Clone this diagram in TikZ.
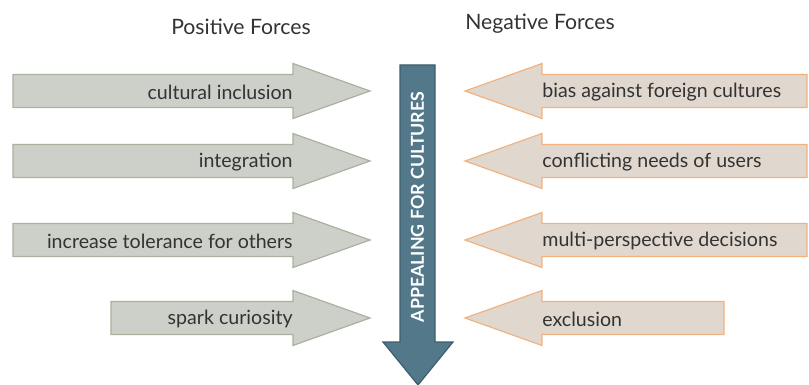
\documentclass[tikz,border=0pt]{standalone}
\usepackage{fontspec}
\setmainfont{Lato}
\usepackage{tikz}
\usetikzlibrary{positioning,calc}
\definecolor{posfill}{HTML}{CDD0C8}
\definecolor{posline}{HTML}{A9B19F}
\definecolor{negfill}{HTML}{E0D8CE}
\definecolor{negline}{HTML}{F2B280}
\definecolor{midfill}{HTML}{52788A}
\definecolor{midline}{HTML}{3D5E6E}
\definecolor{inktext}{HTML}{333333}

\begin{document}
\begin{tikzpicture}[x=0.5pt, y=-0.5pt,
  posarr/.style={draw=posline, fill=posfill, line width=0.6pt},
  negarr/.style={draw=negline, fill=negfill, line width=0.6pt},
  midarr/.style={draw=midline, fill=midfill, line width=0.6pt},
  lab/.style={font=\fontsize{9.8}{11}\selectfont, text=inktext, inner sep=0pt},
  head/.style={font=\fontsize{10.6}{12}\selectfont, text=inktext, inner sep=0pt},
  midlab/.style={font=\fontsize{8.9}{11}\selectfont\bfseries, text=white, inner sep=0pt, rotate=90}]
\useasboundingbox (0,0) rectangle (809,385);
% column titles
\node[head] (postitle) at (241,27) {Positive Forces};
\node[head] (negtitle) at (540,24) {Negative Forces};
% central arrow
\draw[midarr] (400,65) -- (435,65) -- (435,342) -- (453,342) -- (418,385)
  -- (383,342) -- (400,342) -- cycle;
\node[midlab] (goal) at (417.5,207) {APPEALING FOR CULTURES};
% positive forces
\foreach \y/\xl/\txt/\nm in {91/13/cultural inclusion/posa, 161/13/integration/posb,
    240/13/increase tolerance for others/posc, 318/111/spark curiosity/posd}{
  \draw[posarr] (\xl,\y-16.5) -- (293,\y-16.5) -- (293,\y-27.5) -- (370,\y)
    -- (293,\y+27.5) -- (293,\y+16.5) -- (\xl,\y+16.5) -- cycle;
  \node[lab, anchor=east] (\nm) at (293,\y+1) {\txt};
}
% negative forces
\foreach \y/\xr/\txt/\nm in {91/807/bias against foreign cultures/nega,
    161/807/conflicting needs of users/negb, 240/807/multi-perspective decisions/negc,
    318/724/exclusion/negd}{
  \draw[negarr] (\xr,\y-16.5) -- (542,\y-16.5) -- (542,\y-27.5) -- (465,\y)
    -- (542,\y+27.5) -- (542,\y+16.5) -- (\xr,\y+16.5) -- cycle;
  \node[lab, anchor=west] (\nm) at (542,\y+1) {\txt};
}
\end{tikzpicture}
\end{document}
